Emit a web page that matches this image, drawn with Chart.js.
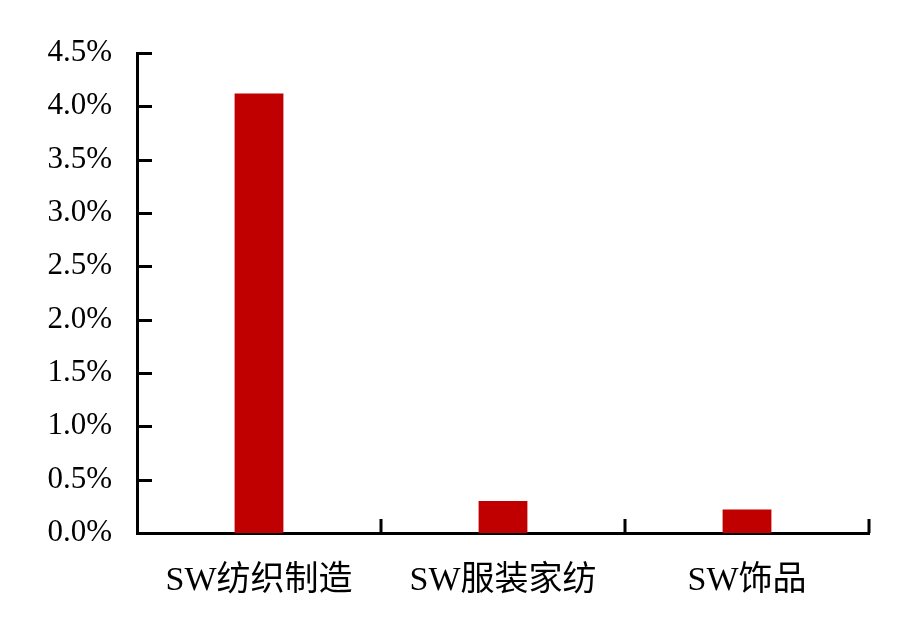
<!DOCTYPE html>
<html>
<head>
<meta charset="utf-8">
<script src="https://cdn.jsdelivr.net/npm/chart.js@4"></script>
<style>
  html, body { margin: 0; padding: 0; background: #fff; }
  #wrap { width: 919px; height: 639px; }
</style>
</head>
<body>
<div id="wrap"><canvas id="myBarChart" width="919" height="639"></canvas></div>
<script>
// chart values
var categories = ['SW纺织制造', 'SW服装家纺', 'SW饰品'];
var shareValues = [4.12, 0.30, 0.22];   // percent
var yTicks = [0, 0.5, 1.0, 1.5, 2.0, 2.5, 3.0, 3.5, 4.0, 4.5];

var fontFamily = "'Liberation Serif', 'Noto Sans CJK SC', serif";

// draws the short inward tick marks like the original
var innerTicks = {
  id: 'innerTicks',
  afterDraw: function (chart) {
    var ctx = chart.ctx;
    var x = chart.scales.x, y = chart.scales.y;
    var area = chart.chartArea;
    var step = x.getPixelForTick(1) - x.getPixelForTick(0);
    ctx.save();
    ctx.strokeStyle = '#000';
    ctx.lineWidth = 3;
    ctx.beginPath();
    yTicks.forEach(function (v) {
      var py = Math.round(y.getPixelForValue(v)) + 0.5;
      ctx.moveTo(area.left, py);
      ctx.lineTo(area.left + 15, py);
    });
    for (var i = 1; i <= categories.length; i++) {
      var px = i < categories.length ? x.getPixelForTick(i) - step / 2 : area.right;
      ctx.moveTo(px, area.bottom);
      ctx.lineTo(px, area.bottom - 14);
    }
    ctx.stroke();
    ctx.restore();
  }
};

var ctx = document.getElementById('myBarChart').getContext('2d');
var myBarChart = new Chart(ctx, {
  type: 'bar',
  data: {
    labels: categories,
    datasets: [{
      data: shareValues,
      backgroundColor: '#C00000',
      borderWidth: 0,
      barPercentage: 0.2,
      categoryPercentage: 1.0
    }]
  },
  options: {
    responsive: false,
    animation: false,
    maintainAspectRatio: false,
    layout: { padding: { top: 53, right: 50, left: 0, bottom: 0 } },
    plugins: {
      legend: { display: false },
      tooltip: { enabled: false }
    },
    scales: {
      x: {
        grid: { display: false, drawTicks: false },
        border: { display: true, color: '#000', width: 3 },
        ticks: {
          color: '#000',
          padding: 28,
          font: { family: fontFamily, size: 34 }
        },
        afterFit: function (scale) { scale.height = 106; }
      },
      y: {
        min: 0,
        max: 4.5,
        afterBuildTicks: function (scale) {
          scale.ticks = yTicks.map(function (v) { return { value: v }; });
        },
        grid: { display: false, drawTicks: false },
        border: { display: true, color: '#000', width: 3 },
        ticks: {
          color: '#000',
          padding: 25,
          font: { family: fontFamily, size: 31 },
          callback: function (v) { return v.toFixed(1) + '%'; }
        },
        afterFit: function (scale) { scale.width = 137; }
      }
    }
  },
  plugins: [innerTicks]
});
</script>
</body>
</html>
